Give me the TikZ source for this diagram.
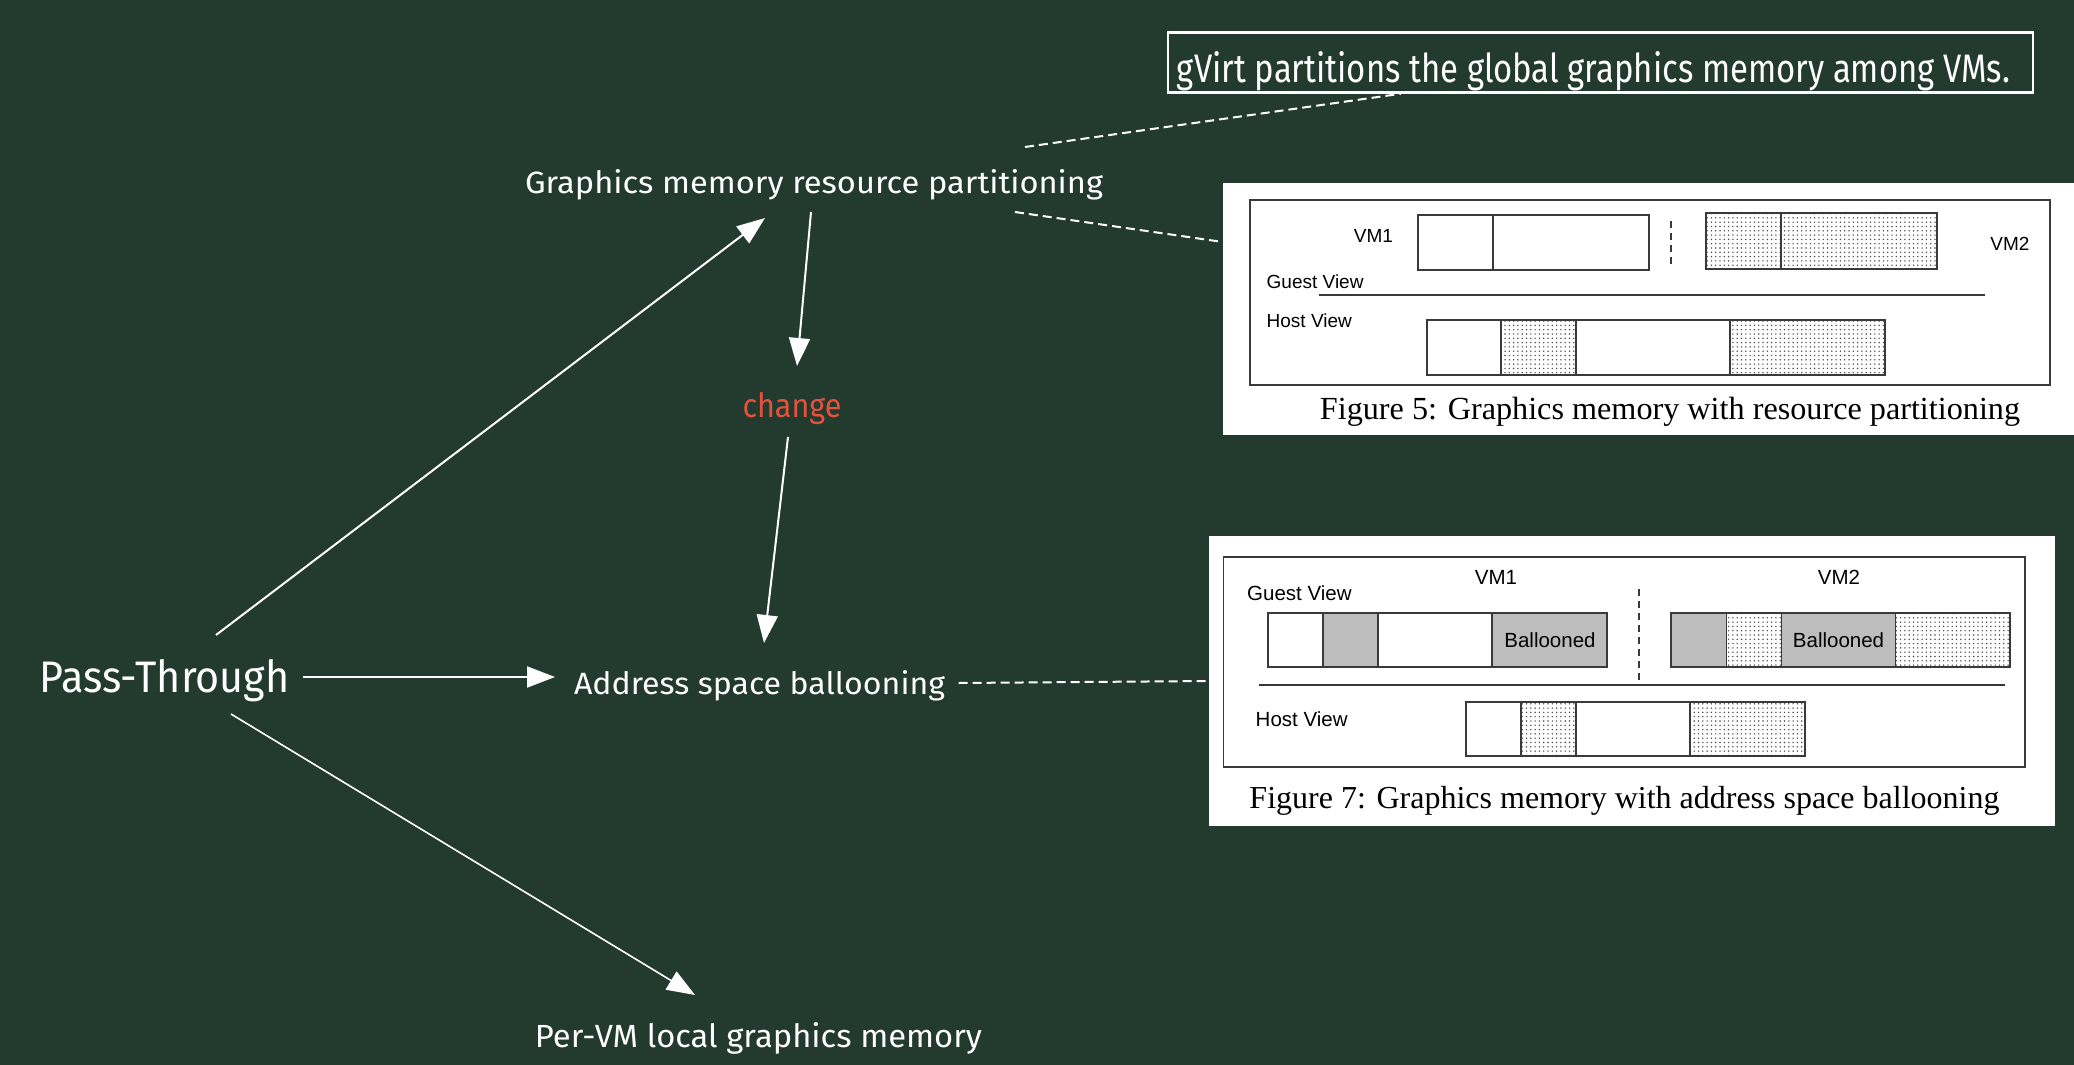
\documentclass[tikz,border=0pt]{standalone}
\usepackage{fontspec}
\usepackage{graphicx}
\usetikzlibrary{arrows.meta,calc,patterns.meta}
\setmainfont{Liberation Serif}
\newfontfamily\handfont{Fira Sans}
\newfontfamily\figsans{Liberation Sans}
\newfontfamily\figserif{Liberation Serif}
\definecolor{board}{HTML}{233A2F}
\definecolor{chalkred}{HTML}{E7503A}
\definecolor{balloongray}{HTML}{BDBDBD}
\definecolor{figline}{HTML}{3A3A3A}
% chalk text fitted to a given width and ascender height
\newcommand\chalk[3]{\resizebox{#1pt}{#2pt}{\handfont #3}}
\begin{document}
\begin{tikzpicture}[x=1pt,y=-1pt,
  chalktext/.style={text=white, inner sep=0pt, anchor=base},
  arrowline/.style={draw=white, line width=2pt, -{Triangle[length=28pt,width=21pt]}},
  leader/.style={draw=white, line width=2pt, dash pattern=on 9pt off 5pt},
  paper/.style={fill=white, draw=none, inner sep=0pt},
  frame/.style={draw=figline, line width=1.8pt},
  cell/.style={draw=figline, line width=1.3pt},
  dotcell/.style={cell, pattern={Dots[distance=4.3pt, radius=0.8pt]}, pattern color=black!70},
  graycell/.style={cell, fill=balloongray},
  vsplit/.style={draw=figline, line width=1.5pt, dash pattern=on 7pt off 5pt},
  figlabel/.style={inner sep=0pt, font=\figsans\fontsize{19}{19}\selectfont},
  biglabel/.style={inner sep=0pt, font=\figsans\fontsize{20.5}{20.5}\selectfont},
  figcaption/.style={inner sep=0pt, anchor=base}
]
\useasboundingbox (0,0) rectangle (2074,1065);
\fill[board] (0,0) rectangle (2074,1065);

% ---- chalk labels ----
\node[chalktext] (gmrp) at (814,193) {\chalk{578}{24}{Graphics memory resource partitioning}};
\node[chalktext, text=chalkred] (change) at (792,417) {\chalk{99}{25}{change}};
\node[chalktext] (pass) at (164.5,692) {\chalk{250}{33}{Pass-Through}};
\node[chalktext] (addr) at (759.5,694) {\chalk{371}{24}{Address space ballooning}};
\node[chalktext] (pervm) at (758.5,1047) {\chalk{447}{25}{Per-VM local graphics memory}};

\node[draw=white, line width=2.5pt, minimum width=865pt, minimum height=60pt, inner sep=0pt] (gvbox) at (1600.5,62.5) {};
\node[chalktext] (gvirt) at (1593.5,83) {\chalk{833}{31}{gVirt partitions the global graphics memory among VMs.}};

% ---- Figure 5: resource partitioning ----
\node[paper, minimum width=851pt, minimum height=252pt] (fig5) at (1648.5,309) {};
\draw[frame] (1250,200) rectangle (2050,385);
\draw[cell] (1418,215) rectangle (1649,270);
\draw[cell] (1493,215) -- (1493,270);
\draw[vsplit] (1671,221) -- (1671,269);
\draw[dotcell] (1706,213) rectangle (1781,269);
\draw[dotcell] (1781,213) rectangle (1937,269);
\draw[frame] (1319,295) -- (1985,295);
\draw[cell] (1427,320) rectangle (1501,375);
\draw[dotcell] (1501,320) rectangle (1576,375);
\draw[cell] (1576,320) rectangle (1730,375);
\draw[dotcell] (1730,320) rectangle (1885,375);
\node[figlabel, anchor=base] at (1373.5,242.6) {VM1};
\node[figlabel, anchor=base] at (2010,250.9) {VM2};
\node[figlabel, anchor=base west] at (1266.5,288.5) {Guest View};
\node[figlabel, anchor=base west] at (1266.5,327.4) {Host View};
\node[figcaption, font=\figserif\fontsize{32.2}{32.2}\selectfont] at (1670,419) {Figure 5: Graphics memory with resource partitioning};

% ---- Figure 7: address space ballooning ----
\node[paper, minimum width=846pt, minimum height=290pt] (fig7) at (1632,681) {};
\draw[frame] (1223.5,557) rectangle (2025,767);
\node[biglabel, anchor=base] at (1496,584) {VM1};
\node[biglabel, anchor=base] at (1839,584) {VM2};
\node[biglabel, anchor=base west] at (1247,600.7) {Guest View};
\draw[vsplit] (1639,589) -- (1639,685);
\draw[frame] (1259,685) -- (2005,685);
\draw[cell] (1268,613) rectangle (1323,667);
\draw[graycell] (1323,613) rectangle (1378,667);
\draw[cell] (1378,613) rectangle (1492,667);
\draw[graycell] (1492,613) rectangle (1607,667);
\draw[graycell] (1671,613) rectangle (1726.5,667);
\draw[dotcell] (1726.5,613) rectangle (1781.5,667);
\draw[graycell] (1781.5,613) rectangle (1895.5,667);
\draw[dotcell] (1895.5,613) rectangle (2010,667);
\node[biglabel, anchor=base] at (1550,647.7) {Ballooned};
\node[biglabel, anchor=base] at (1838.5,647.7) {Ballooned};
\node[biglabel, anchor=base west] at (1255.5,726.6) {Host View};
\draw[cell] (1466,702) rectangle (1521,756);
\draw[dotcell] (1521,702) rectangle (1576,756);
\draw[cell] (1576,702) rectangle (1690,756);
\draw[dotcell] (1690,702) rectangle (1805,756);
\node[figcaption, font=\figserif\fontsize{32}{32}\selectfont] at (1624.5,808) {Figure 7: Graphics memory with address space ballooning};

% ---- connectors ----
\draw[arrowline] ($(pass.base)+(51.5,-57)$) -- ($(gmrp.base)+(-49,25)$);
\draw[arrowline] ($(gmrp.base)+(-3,19)$) -- ($(change.base)+(5,-51)$);
\draw[arrowline] ($(change.base)+(-4,20)$) -- ($(addr.base)+(4.5,-51)$);
\draw[arrowline] ($(pass.base)+(138.5,-15)$) -- ($(addr.base)+(-204.5,-17)$);
\draw[arrowline, line width=1.6pt] ($(pass.base)+(66.5,22)$) -- ($(pervm.base)+(-63.5,-52)$);

\draw[leader] ($(gmrp.base)+(211,-46)$) -- ($(gvbox.south west)+(234,0)$);
\draw[leader] ($(gmrp.base)+(201,19)$) -- ($(fig5.west)+(0,-67)$);
\draw[leader] ($(addr.base)+(199,-11)$) -- (fig7.west);
\end{tikzpicture}
\end{document}
